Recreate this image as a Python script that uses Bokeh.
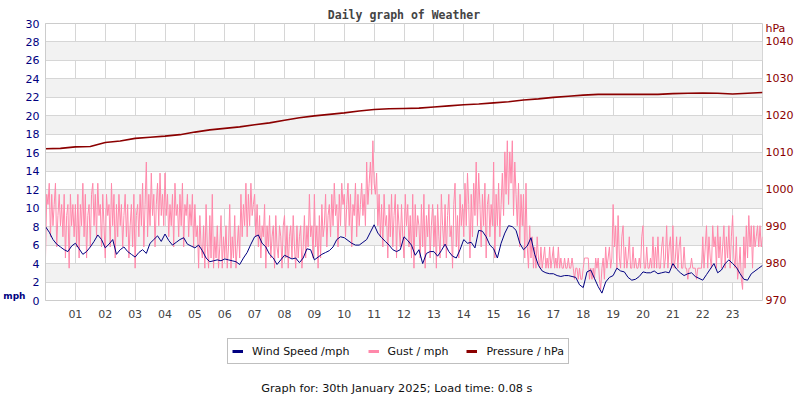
from bokeh.plotting import figure
from bokeh.layouts import column
from bokeh.models import (Range1d, LinearAxis, FixedTicker, Legend, Title,
                          LegendItem, PrintfTickFormatter, Label)
from bokeh.embed import file_html
from bokeh.resources import INLINE

# ---------------- data ----------------
hour_ticks = list(range(1, 24))
grid_hours = list(range(0, 25))
mph_ticks = list(range(0, 31, 2))
hpa_ticks = list(range(970, 1041, 10))

wind_step_h = 0.125   # one reading per 7.5 minutes (8 per hour)
wind_speed = [
    8.0, 7.4, 6.6, 6.1, 5.8, 5.5, 5.3, 5.9,
    6.2, 5.6, 5.0, 5.3, 5.8, 6.4, 7.1, 6.6,
    5.7, 6.1, 6.6, 5.0, 5.5, 5.8, 5.3, 5.0,
    4.7, 5.2, 5.5, 5.1, 6.2, 6.6, 7.0, 6.4,
    7.2, 6.5, 6.0, 6.3, 6.6, 6.8, 6.1, 5.9,
    5.7, 6.0, 5.4, 4.6, 4.2, 4.3, 4.4, 4.3,
    4.5, 4.4, 4.3, 4.2, 3.9, 4.6, 5.2, 6.1,
    6.9, 7.1, 6.2, 5.8, 5.0, 4.6, 3.9, 4.4,
    4.9, 4.7, 4.5, 4.6, 4.1, 4.6, 5.6, 5.5,
    4.4, 4.7, 5.0, 5.2, 5.4, 5.8, 6.6, 6.9,
    6.8, 6.5, 6.2, 6.0, 6.0, 6.3, 6.6, 7.4,
    8.2, 7.3, 6.8, 6.4, 6.0, 5.5, 5.3, 5.5,
    6.9, 6.5, 6.0, 4.9, 5.5, 4.0, 5.1, 5.3,
    5.3, 4.8, 5.4, 6.1, 5.3, 4.8, 4.6, 5.5,
    6.6, 6.2, 6.3, 5.7, 7.6, 7.5, 6.9, 6.0,
    5.6, 4.6, 6.2, 7.3, 8.1, 8.0, 7.6, 6.2,
    5.5, 5.9, 6.8, 5.0, 3.8, 3.2, 3.0, 2.9,
    2.9, 2.7, 2.6, 2.7, 2.7, 2.6, 2.5, 1.7,
    1.4, 3.1, 3.3, 2.4, 1.5, 0.8, 2.0, 2.5,
    2.7, 3.5, 3.2, 3.1, 2.5, 2.2, 2.3, 2.6,
    3.1, 3.0, 3.0, 3.2, 2.9, 3.0, 3.1, 3.0,
    4.0, 3.4, 3.0, 2.7, 2.9, 3.0, 2.6, 2.4,
    2.2, 2.8, 3.4, 4.0, 3.0, 3.3, 4.0, 4.4,
    4.0, 3.6, 2.9, 2.3, 2.2, 2.9, 3.2, 3.5,
    3.8,
]

gust_step_h = 2.5 / 60  # one reading per 2.5 minutes (24 per hour)
gust = [
    4.6, 11.5, 10.4, 12.7, 6.9, 11.5, 8.1, 10.4, 12.7, 5.8, 9.2, 11.5,
    8.1, 10.4, 6.9, 11.5, 4.6, 9.2, 10.4, 3.5, 11.5, 8.1, 10.4, 6.9,
    10.4, 5.8, 11.5, 4.6, 10.4, 8.1, 12.7, 6.9, 11.5, 4.6, 9.2, 10.4,
    5.8, 11.5, 12.7, 8.1, 11.5, 6.9, 12.7, 9.2, 10.4, 5.8, 11.5, 8.1,
    4.6, 11.5, 9.2, 10.4, 5.8, 12.7, 8.1, 11.5, 4.6, 10.4, 6.9, 11.5,
    8.1, 10.4, 5.8, 9.2, 11.5, 6.9, 10.4, 4.6, 8.1, 10.4, 5.8, 11.5,
    3.5, 9.2, 10.4, 6.9, 11.5, 8.1, 12.7, 5.8, 10.4, 15.0, 6.9, 11.5,
    8.1, 13.8, 9.2, 11.5, 5.8, 10.4, 12.7, 8.1, 13.8, 9.2, 11.5, 8.1,
    13.8, 9.2, 11.5, 6.9, 10.4, 8.1, 11.5, 5.8, 12.7, 9.2, 10.4, 6.9,
    11.5, 8.1, 12.7, 5.8, 10.4, 9.2, 11.5, 6.9, 10.4, 8.1, 11.5, 5.8,
    10.4, 6.9, 8.1, 3.5, 9.2, 5.8, 4.6, 8.1, 3.5, 10.4, 5.8, 3.5,
    9.2, 4.6, 11.5, 3.5, 6.9, 4.6, 8.1, 3.5, 5.8, 9.2, 3.5, 6.9,
    4.6, 8.1, 3.5, 5.8, 10.4, 3.5, 6.9, 4.6, 9.2, 3.5, 5.8, 8.1,
    4.6, 11.5, 6.9, 10.4, 8.1, 12.7, 6.9, 11.5, 8.1, 12.7, 9.2, 10.4,
    11.5, 6.9, 10.4, 5.8, 9.2, 4.6, 8.1, 6.9, 10.4, 3.5, 8.1, 5.8,
    9.2, 4.6, 6.9, 8.1, 3.5, 9.2, 5.8, 4.6, 8.1, 6.9, 3.5, 8.1,
    9.2, 4.6, 8.1, 3.5, 6.9, 8.1, 4.6, 9.2, 5.8, 3.5, 8.1, 4.6,
    6.9, 8.1, 3.5, 5.8, 9.2, 4.6, 8.1, 5.8, 11.5, 6.9, 8.1, 4.6,
    11.5, 5.8, 8.1, 3.5, 9.2, 4.6, 10.4, 6.9, 8.1, 11.5, 5.8, 9.2,
    10.4, 6.9, 11.5, 8.1, 12.7, 9.2, 10.4, 5.8, 11.5, 8.1, 12.7, 10.4,
    11.5, 6.9, 10.4, 12.7, 8.1, 11.5, 5.8, 10.4, 9.2, 12.7, 6.9, 11.5,
    8.1, 10.4, 12.7, 9.2, 11.5, 8.1, 15.0, 10.4, 12.7, 15.0, 11.5, 17.3,
    12.7, 11.5, 13.8, 8.1, 11.5, 6.9, 10.4, 5.8, 11.5, 8.1, 9.2, 4.6,
    10.4, 6.9, 11.5, 5.8, 9.2, 11.5, 4.6, 10.4, 8.1, 5.8, 10.4, 6.9,
    4.6, 11.5, 8.1, 10.4, 5.8, 9.2, 4.6, 11.5, 3.5, 10.4, 6.9, 9.2,
    8.1, 4.6, 10.4, 5.8, 11.5, 3.5, 9.2, 6.9, 10.4, 4.6, 8.1, 10.4,
    5.8, 9.2, 3.5, 10.4, 6.9, 4.6, 11.5, 8.1, 5.8, 10.4, 4.6, 9.2,
    11.5, 6.9, 8.1, 3.5, 10.4, 12.7, 5.8, 9.2, 4.6, 11.5, 8.1, 10.4,
    6.9, 12.7, 8.1, 13.8, 10.4, 4.6, 11.5, 6.9, 12.7, 9.2, 15.0, 8.1,
    13.8, 10.4, 5.8, 11.5, 8.1, 12.7, 4.6, 10.4, 11.5, 6.9, 10.4, 8.1,
    15.0, 4.6, 11.5, 8.1, 12.7, 6.9, 10.4, 13.8, 9.2, 16.1, 11.5, 17.3,
    10.4, 16.1, 12.7, 17.3, 9.2, 15.0, 11.5, 8.1, 12.7, 5.8, 11.5, 8.1,
    11.5, 4.6, 12.7, 5.8, 3.5, 8.1, 4.6, 6.9, 3.5, 5.8, 3.5, 6.9,
    4.6, 3.5, 5.8, 3.5, 4.6, 5.8, 3.5, 4.6, 3.5, 5.8, 3.5, 4.6,
    5.8, 3.5, 4.6, 3.5, 5.8, 3.5, 4.6, 3.5, 3.5, 4.6, 3.5, 3.5,
    4.6, 3.5, 3.5, 4.6, 3.5, 2.3, 3.5, 3.5, 2.3, 3.5, 2.3, 2.3,
    3.5, 4.6, 4.6, 4.6, 4.6, 2.3, 3.5, 2.3, 3.5, 2.3, 4.6, 3.5,
    4.6, 2.3, 1.2, 3.5, 4.6, 2.3, 5.8, 3.5, 4.6, 5.8, 3.5, 4.6,
    10.4, 5.8, 8.1, 3.5, 9.2, 4.6, 3.5, 6.9, 8.1, 3.5, 5.8, 3.5,
    4.6, 6.9, 3.5, 3.5, 5.8, 3.5, 4.6, 3.5, 3.5, 4.6, 3.5, 6.9,
    8.1, 3.5, 3.5, 5.8, 3.5, 3.5, 4.6, 3.5, 6.9, 3.5, 5.8, 3.5,
    6.9, 3.5, 3.5, 5.8, 6.9, 3.5, 4.6, 8.1, 3.5, 5.8, 6.9, 3.5,
    8.1, 3.5, 4.6, 6.9, 3.5, 5.8, 6.9, 3.5, 3.5, 5.8, 3.5, 3.5,
    2.3, 3.5, 3.5, 4.6, 3.5, 3.5, 3.5, 2.3, 3.5, 3.5, 3.5, 3.5,
    6.9, 3.5, 5.8, 8.1, 3.5, 6.9, 4.6, 3.5, 8.1, 5.8, 6.9, 3.5,
    8.1, 4.6, 6.9, 3.5, 5.8, 8.1, 3.5, 6.9, 4.6, 8.1, 3.5, 6.9,
    9.2, 4.6, 3.5, 6.9, 2.3, 3.5, 5.8, 2.3, 1.2, 6.9, 3.5, 8.1,
    4.6, 9.2, 5.8, 8.1, 3.5, 8.1, 5.8, 6.9, 8.1, 5.8, 8.1, 5.8,
    6.9,
]

press_step_h = 0.5   # one reading per 30 minutes
pressure = [
    1011.1, 1011.2, 1011.6, 1011.7, 1012.8, 1013.2, 1013.9, 1014.2,
    1014.5, 1014.9, 1015.6, 1016.2, 1016.6, 1017.0, 1017.6, 1018.1,
    1018.8, 1019.5, 1020.0, 1020.4, 1020.8, 1021.3, 1021.7, 1021.9,
    1022.0, 1022.1, 1022.4, 1022.7, 1023.0, 1023.2, 1023.5, 1023.8,
    1024.3, 1024.6, 1025.0, 1025.3, 1025.6, 1025.8, 1025.8, 1025.8,
    1025.8, 1025.8, 1026.0, 1026.1, 1026.2, 1026.1, 1025.9, 1026.1,
    1026.3,
]

title_text = "Daily graph of Weather"
footer_text = "Graph for: 30th January 2025; Load time: 0.08 s"
legend_labels = ["Wind Speed /mph", "Gust / mph", "Pressure / hPa"]
left_unit = "mph"
right_unit = "hPa"
right_unit_at = 1043.6

# ---------------- style ----------------
WIND_C = "#000080"
GUST_C = "#ff88aa"
PRESS_C = "#8b0000"
GRID_C = "#d6d6d6"
FONT = "DejaVu Sans"
W = 800


def plain_axis(ax, standoff, color, size="11px"):
    ax.major_tick_out = 0
    ax.major_tick_in = 0
    ax.minor_tick_out = 0
    ax.minor_tick_in = 0
    ax.major_label_standoff = standoff
    ax.major_label_text_font = FONT
    ax.major_label_text_font_size = size
    ax.major_label_text_color = color


# ================= main chart =================
p = figure(width=W, height=322, output_backend="svg", toolbar_location=None,
           x_range=Range1d(0, 24), y_range=Range1d(0, 30),
           min_border_left=39, min_border_right=38,
           min_border_top=23, min_border_bottom=22)
p.extra_y_ranges = {"hpa": Range1d(970, 1045)}
p.outline_line_color = "#cccccc"
p.background_fill_color = "white"
p.border_fill_color = "white"

p.title = Title(text=title_text, align="center", text_font="DejaVu Sans Mono",
                text_font_style="bold", text_font_size="11.5px",
                text_color="#444444", standoff=4, offset=0)

p.xgrid.ticker = FixedTicker(ticks=grid_hours)
p.ygrid.ticker = FixedTicker(ticks=mph_ticks)
for g in (p.xgrid, p.ygrid):
    g.grid_line_color = GRID_C
    g.grid_line_width = 1
p.ygrid.band_fill_color = "#f2f2f2"
p.ygrid.band_fill_alpha = 1.0

xa = p.xaxis[0]
xa.ticker = FixedTicker(ticks=hour_ticks)
xa.formatter = PrintfTickFormatter(format="%02d")
plain_axis(xa, 9, "#444444")
xa.axis_line_color = None

ya = p.yaxis[0]
ya.ticker = FixedTicker(ticks=mph_ticks)
plain_axis(ya, 6, WIND_C)
ya.axis_line_color = "#cccccc"

ua = LinearAxis(ticker=FixedTicker(ticks=[0.5]),
                formatter=PrintfTickFormatter(format=left_unit))
plain_axis(ua, -3, WIND_C, "9px")
ua.major_label_text_font_style = "bold"
ua.axis_line_color = None
p.add_layout(ua, "left")

ra = LinearAxis(y_range_name="hpa",
                ticker=FixedTicker(ticks=hpa_ticks + [right_unit_at]))
ra.major_label_overrides = {right_unit_at: right_unit}
plain_axis(ra, 3, PRESS_C)
ra.axis_line_color = None
p.add_layout(ra, "right")

px = [i * press_step_h for i in range(len(pressure))]
gx = [i * gust_step_h for i in range(len(gust))]
wx = [i * wind_step_h for i in range(len(wind_speed))]

p.line(px, pressure, y_range_name="hpa", line_color=PRESS_C, line_width=1.6)
p.line(gx, gust, line_color=GUST_C, line_width=1)
p.line(wx, wind_speed, line_color=WIND_C, line_width=1)

# ================= legend + footer strip =================
q = figure(width=W, height=78, output_backend="svg", toolbar_location=None,
           x_range=Range1d(0, W), y_range=Range1d(0, 78),
           x_axis_location=None, y_axis_location=None,
           min_border_left=0, min_border_right=0,
           min_border_top=0, min_border_bottom=0)
q.grid.visible = False
q.outline_line_color = None
q.background_fill_color = "white"
q.border_fill_color = "white"

swatch_x = [-20, -10]
swatch_y = [-20, -20]
lw = q.line(swatch_x, swatch_y, line_color=WIND_C, line_width=3)
lg = q.line(swatch_x, swatch_y, line_color=GUST_C, line_width=3)
lp = q.line(swatch_x, swatch_y, line_color=PRESS_C, line_width=3)
legend = Legend(items=[LegendItem(label=legend_labels[0], renderers=[lw]),
                       LegendItem(label=legend_labels[1], renderers=[lg]),
                       LegendItem(label=legend_labels[2], renderers=[lp])],
                orientation="horizontal", location=(182, 36),
                glyph_width=11, glyph_height=16, label_height=16,
                label_standoff=9, spacing=18, padding=4, margin=0,
                border_line_color="#808080", border_line_width=1,
                background_fill_color="white", background_fill_alpha=1.0,
                label_text_font=FONT, label_text_font_size="11px",
                label_text_color="#111111")
q.add_layout(legend)

q.add_layout(Label(x=392, y=12, text=footer_text, text_align="center",
                   text_baseline="middle", text_font=FONT,
                   text_font_size="11.3px", text_color="#111111"))

open("out.html", "w").write(file_html(column(p, q, spacing=0), INLINE))
